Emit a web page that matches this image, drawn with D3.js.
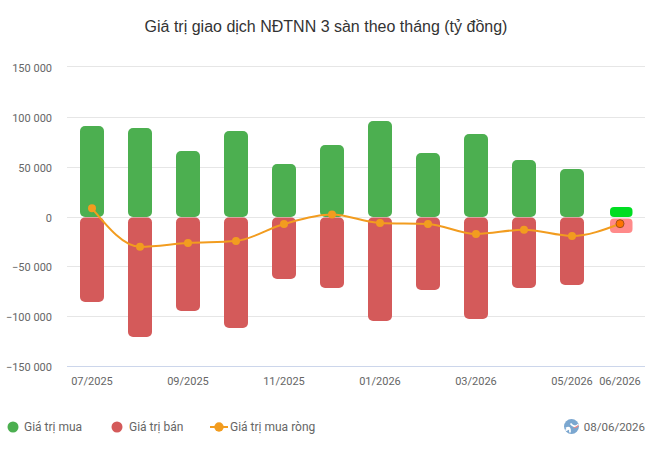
<!DOCTYPE html>
<html><head><meta charset="utf-8">
<script src="https://cdn.jsdelivr.net/npm/d3@7"></script>
<style>
html,body{margin:0;padding:0;background:#fff}
svg{display:block;font-family:Roboto,Arial,sans-serif}
</style></head><body>
<svg id="chart" width="654" height="452"></svg>
<script>
const months = ["07/2025","08/2025","09/2025","10/2025","11/2025","12/2025","01/2026","02/2026","03/2026","04/2026","05/2026","06/2026"];
const shownMonths = ["07/2025","09/2025","11/2025","01/2026","03/2026","05/2026","06/2026"];
const buyValues = [91000,89000,66000,86000,53000,72000,96000,64000,83000,57000,48000,10000];
const sellValues = [-85000,-120000,-94000,-111000,-62000,-71000,-104000,-73000,-102000,-71000,-68000,-16000];
const netValues = [8700,-29700,-26000,-24000,-7000,2500,-6000,-7000,-17000,-12700,-19000,-6700];
const yTicks = [150000,100000,50000,0,-50000,-100000,-150000];

const svg = d3.select("#chart");
const x = d3.scaleBand().domain(months).range([68,644]);
const y = d3.scaleLinear().domain([-150000,150000]).range([366.9,67.1]);
const fmt = v => d3.format(",")(v).replace(/,/g," ");
const lastIdx = months.length-1;
// pixel row for a gridline; the top line sits one row higher
const row = d => Math.floor(y(d)) + (d===yTicks[0] ? -0.5 : 0.5);

svg.append("text").attr("x",326).attr("y",32).attr("text-anchor","middle")
  .attr("font-size",16).attr("fill","#333").attr("font-family","'Liberation Sans',Arial,sans-serif")
  .text("Giá trị giao dịch NĐTNN 3 sàn theo tháng (tỷ đồng)");

// grid and value labels
const grid = svg.append("g");
grid.selectAll("line").data(yTicks).join("line")
  .attr("x1",67).attr("x2",645)
  .attr("y1",row).attr("y2",row)
  .attr("stroke",d=>d===-150000?"#ccd6eb":"#e6e6e6").attr("stroke-width",1);
grid.selectAll("text").data(yTicks).join("text")
  .attr("x",52).attr("y",d=>y(d)+4.5).attr("text-anchor","end")
  .attr("font-size",11).attr("fill","#666").text(fmt);

// month labels
svg.append("g").selectAll("text").data(shownMonths).join("text")
  .attr("x",d=>x(d)+x.bandwidth()/2).attr("y",385).attr("text-anchor","middle")
  .attr("font-size",11).attr("fill","#666").text(d=>d);

// buy and sell bars; the latest month is drawn in its highlighted state
function bars(values,color,current){
  svg.append("g").selectAll("rect").data(values).join("rect")
    .attr("x",(d,i)=>x(months[i])+x.bandwidth()/2-(i===lastIdx?10:12))
    .attr("width",(d,i)=>i===lastIdx?22.5:24)
    .attr("y",(d,i)=>d>=0?y(d):y(0)+(i===lastIdx?1.5:0.4))
    .attr("height",(d,i)=>Math.abs(y(d)-y(0))-(d>=0?0:(i===lastIdx?1.5:0.4)))
    .attr("rx",(d,i)=>i===lastIdx?4:5).attr("ry",(d,i)=>i===lastIdx?4:5)
    .attr("fill",(d,i)=>i===lastIdx?current:color);
}
bars(buyValues,"#4caf50","#00dd22");
bars(sellValues,"#d45a5a","#ff8a8a");

// net line
const cx = i => x(months[i])+x.bandwidth()/2;
const line = d3.line().x((d,i)=>cx(i)).y(d=>y(d)).curve(d3.curveMonotoneX);
svg.append("path").attr("d",line(netValues)).attr("fill","none")
  .attr("stroke","#f29c1f").attr("stroke-width",2);
svg.append("g").selectAll("circle").data(netValues).join("circle")
  .attr("cx",(d,i)=>cx(i)).attr("cy",d=>y(d)).attr("r",4)
  .attr("fill",(d,i)=>i===lastIdx?"#ff7300":"#f29c1f")
  .attr("stroke",(d,i)=>i===lastIdx?"#a0501a":"none").attr("stroke-width",1);

// legend
const legendY = 427;
const lg = svg.append("g").attr("font-size",12).attr("fill","#666");
lg.append("circle").attr("cx",13).attr("cy",legendY).attr("r",5.5).attr("fill","#4caf50");
lg.append("text").attr("x",24).attr("y",legendY+4).text("Giá trị mua");
lg.append("circle").attr("cx",117).attr("cy",legendY).attr("r",5.5).attr("fill","#d45a5a");
lg.append("text").attr("x",129).attr("y",legendY+4).text("Giá trị bán");
lg.append("line").attr("x1",210).attr("x2",228).attr("y1",legendY).attr("y2",legendY)
  .attr("stroke","#f29c1f").attr("stroke-width",2);
lg.append("circle").attr("cx",219).attr("cy",legendY).attr("r",4.7).attr("fill","#f29c1f");
lg.append("text").attr("x",230).attr("y",legendY+4).text("Giá trị mua ròng");

// date stamp with small globe mark
const mark = svg.append("g").attr("transform","translate(571.5,426.5)");
mark.append("circle").attr("r",7.5).attr("fill","#7ba7d0");
mark.append("path").attr("d","M-5.5,2 Q-1,-1 -1.5,6 M-2,2 L-6,4").attr("stroke","#fff").attr("stroke-width",1.8).attr("fill","none");
mark.append("path").attr("d","M-1,-3 Q3,2 7,-2").attr("stroke","#fff").attr("stroke-width",1.8).attr("fill","none");
mark.append("path").attr("d","M2,1.5 Q5,1 7,-1").attr("stroke","#e58a8a").attr("stroke-width",1.2).attr("fill","none");
svg.append("text").attr("x",645).attr("y",431).attr("text-anchor","end")
  .attr("font-size",11.5).attr("fill","#666").text("08/06/2026");
</script></body></html>
